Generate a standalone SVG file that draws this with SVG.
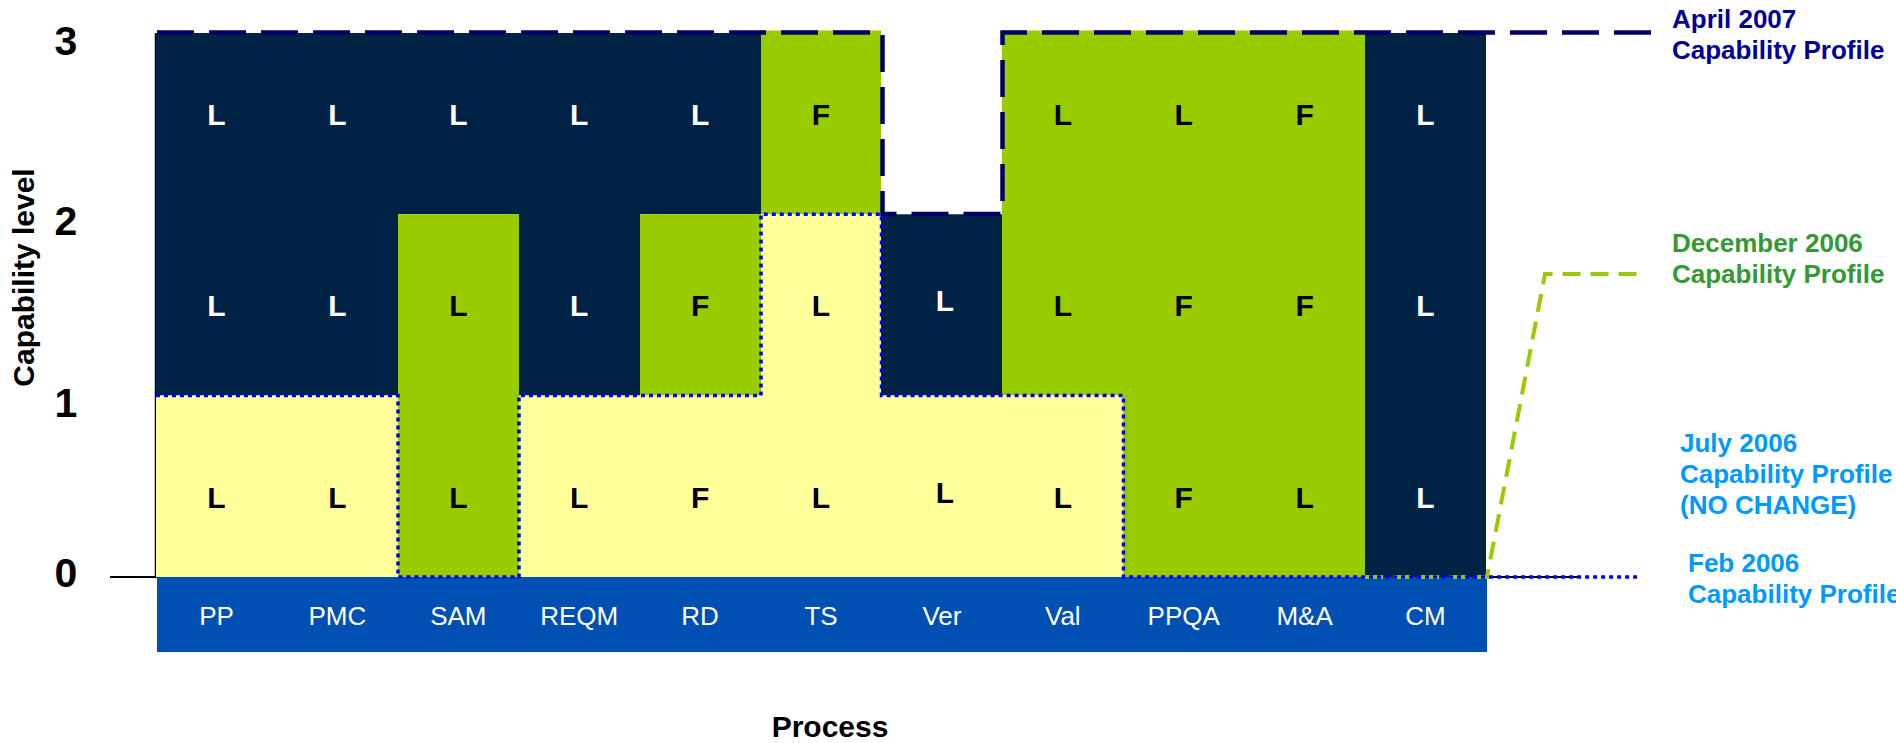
<svg xmlns="http://www.w3.org/2000/svg" width="1896" height="743" viewBox="0 0 1896 743">
<style>
.navy{fill:#002244}
.green{fill:#99CC00}
.yellow{fill:#FFFF99}
.bar{fill:#0050B4}
.cl{font-family:"Liberation Sans",Arial,sans-serif;font-weight:bold;font-size:30px;text-anchor:middle}
.w{fill:#FFFFFF}
.k{fill:#000000}
.pl{font-family:"Liberation Sans",Arial,sans-serif;font-size:26px;fill:#FFFFFF;text-anchor:middle}
.ax{font-family:"Liberation Sans",Arial,sans-serif;font-weight:bold;font-size:41px;fill:#000;text-anchor:middle}
.ttl{font-family:"Liberation Sans",Arial,sans-serif;font-weight:bold;font-size:30px;fill:#000;text-anchor:middle}
.lg{font-family:"Liberation Sans",Arial,sans-serif;font-weight:bold;font-size:26px}
</style>
<rect width="1896" height="743" fill="#FFFFFF"/>
<g id="axes" stroke="#000" fill="none">
<line x1="110" y1="577" x2="1578" y2="577" stroke-width="2"/>
<line x1="155.5" y1="33" x2="155.5" y2="577" stroke-width="1.5"/>
</g>
<g id="col-PP">
<rect class="navy" x="156" y="33" width="121" height="362.5"/>
<rect class="yellow" x="156" y="395.5" width="121" height="181.5"/>
<text class="cl w" x="216.5" y="125">L</text>
<text class="cl w" x="216.5" y="316">L</text>
<text class="cl k" x="216.5" y="508">L</text>
</g>
<g id="col-PMC">
<rect class="navy" x="277" y="33" width="121" height="362.5"/>
<rect class="yellow" x="277" y="395.5" width="121" height="181.5"/>
<text class="cl w" x="337.4" y="125">L</text>
<text class="cl w" x="337.4" y="316">L</text>
<text class="cl k" x="337.4" y="508">L</text>
</g>
<g id="col-SAM">
<rect class="navy" x="398" y="33" width="121" height="181.3"/>
<rect class="green" x="398" y="214.3" width="121" height="362.7"/>
<text class="cl w" x="458.3" y="125">L</text>
<text class="cl k" x="458.3" y="316">L</text>
<text class="cl k" x="458.3" y="508">L</text>
</g>
<g id="col-REQM">
<rect class="navy" x="519" y="33" width="121" height="362.5"/>
<rect class="yellow" x="519" y="395.5" width="121" height="181.5"/>
<text class="cl w" x="579.2" y="125">L</text>
<text class="cl w" x="579.2" y="316">L</text>
<text class="cl k" x="579.2" y="508">L</text>
</g>
<g id="col-RD">
<rect class="navy" x="640" y="33" width="121" height="181.3"/>
<rect class="green" x="640" y="214.3" width="121" height="181.2"/>
<rect class="yellow" x="640" y="395.5" width="121" height="181.5"/>
<text class="cl w" x="700.1" y="125">L</text>
<text class="cl k" x="700.1" y="316">F</text>
<text class="cl k" x="700.1" y="508">F</text>
</g>
<g id="col-TS">
<rect class="green" x="761" y="30.5" width="120" height="183.8"/>
<rect class="yellow" x="761" y="214.3" width="120" height="362.7"/>
<text class="cl k" x="821" y="125">F</text>
<text class="cl k" x="821" y="316">L</text>
<text class="cl k" x="821" y="508">L</text>
</g>
<g id="col-Ver">
<rect class="navy" x="881" y="214.3" width="121" height="181.2"/>
<rect class="yellow" x="881" y="395.5" width="121" height="181.5"/>
<text class="cl w" x="945" y="310.5">L</text>
<text class="cl k" x="945" y="503">L</text>
</g>
<g id="col-Val">
<rect class="green" x="1002" y="30.5" width="121" height="365"/>
<rect class="yellow" x="1002" y="395.5" width="121" height="181.5"/>
<text class="cl k" x="1062.8" y="125">L</text>
<text class="cl k" x="1062.8" y="316">L</text>
<text class="cl k" x="1062.8" y="508">L</text>
</g>
<g id="col-PPQA">
<rect class="green" x="1123" y="30.5" width="121" height="546.5"/>
<text class="cl k" x="1183.7" y="125">L</text>
<text class="cl k" x="1183.7" y="316">F</text>
<text class="cl k" x="1183.7" y="508">F</text>
</g>
<g id="col-MA">
<rect class="green" x="1244" y="30.5" width="121" height="546.5"/>
<text class="cl k" x="1304.6" y="125">F</text>
<text class="cl k" x="1304.6" y="316">F</text>
<text class="cl k" x="1304.6" y="508">L</text>
</g>
<g id="col-CM">
<rect class="navy" x="1365" y="33" width="121" height="544"/>
<text class="cl w" x="1425.5" y="125">L</text>
<text class="cl w" x="1425.5" y="316">L</text>
<text class="cl w" x="1425.5" y="508">L</text>
</g>
<g id="process-bar">
<rect class="bar" x="157" y="577" width="1330" height="75"/>
<text class="pl" x="216.5" y="625">PP</text>
<text class="pl" x="337.4" y="625">PMC</text>
<text class="pl" x="458.3" y="625">SAM</text>
<text class="pl" x="579.2" y="625">REQM</text>
<text class="pl" x="700.1" y="625">RD</text>
<text class="pl" x="821" y="625">TS</text>
<text class="pl" x="941.9" y="625">Ver</text>
<text class="pl" x="1062.8" y="625">Val</text>
<text class="pl" x="1183.7" y="625">PPQA</text>
<text class="pl" x="1304.6" y="625">M&amp;A</text>
<text class="pl" x="1425.5" y="625">CM</text>
</g>
<g id="connectors" fill="none">
<path id="dec2006-line" d="M1365,577 H1487 L1545,274 H1638" stroke="#99CC00" stroke-width="4" stroke-dasharray="18 10"/>
<path id="feb2006-line" d="M156,395.5 H398 V577 H519 V395.5 H761 V214.3 H881.5 V395.5 H1123.5 V577 H1637" stroke="#0000FF" stroke-width="3.5" stroke-dasharray="4 4"/>
<path id="apr2007-line" d="M157,32.5 H882.5 V214 H1002.5 V32.5 H1655" stroke="#000066" stroke-width="4.5" stroke-dasharray="37 15"/>
</g>
<g id="axis-labels">
<text class="ax" x="66" y="54.5">3</text>
<text class="ax" x="66" y="235">2</text>
<text class="ax" x="66" y="416.5">1</text>
<text class="ax" x="66" y="587">0</text>
<text class="ttl" transform="translate(33.5,277.5) rotate(-90)" x="0" y="0">Capability level</text>
<text class="ttl" x="830" y="737">Process</text>
</g>
<g id="legend-apr2007" class="lg" fill="#000099">
<text x="1672" y="28">April 2007</text>
<text x="1672" y="59">Capability Profile</text>
</g>
<g id="legend-dec2006" class="lg" fill="#339933">
<text x="1672" y="252">December 2006</text>
<text x="1672" y="283">Capability Profile</text>
</g>
<g id="legend-jul2006" class="lg" fill="#0099FF">
<text x="1680" y="452">July 2006</text>
<text x="1680" y="483">Capability Profile</text>
<text x="1680" y="514">(NO CHANGE)</text>
</g>
<g id="legend-feb2006" class="lg" fill="#0099FF">
<text x="1688" y="572">Feb 2006</text>
<text x="1688" y="603">Capability Profile</text>
</g>
</svg>
